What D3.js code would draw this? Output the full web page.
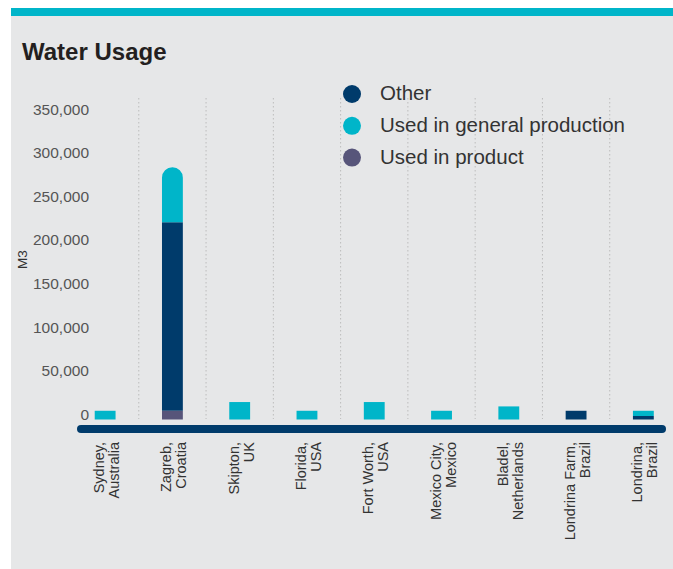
<!DOCTYPE html>
<html>
<head>
<meta charset="utf-8">
<script src="https://cdn.jsdelivr.net/npm/d3@7"></script>
<style>
  html, body { margin: 0; padding: 0; background: #ffffff; }
  svg { display: block; font-family: "Liberation Sans", Arial, Helvetica, sans-serif; }
</style>
</head>
<body>
<svg id="chart" width="673" height="569"></svg>
<script>
// Sites (two-line labels split after the comma)
const categories = [
  "Sydney, Australia", "Zagreb, Croatia", "Skipton, UK", "Florida, USA",
  "Fort Worth, USA", "Mexico City, Mexico", "Bladel, Netherlands",
  "Londrina Farm, Brazil", "Londrina, Brazil"
];
// Water volumes in m3 per site
const usedInProduct     = [0, 10000, 0, 0, 0, 0, 0, 0, 0];
const other             = [0, 216000, 0, 0, 0, 0, 0, 10000, 4000];
const generalProduction = [10000, 63000, 20000, 10000, 20000, 10000, 15000, 0, 6000];
const yTicks = [0, 50000, 100000, 150000, 200000, 250000, 300000, 350000];

const seriesNames = ["Used in product", "Other", "Used in general production"];
const legendOrder = ["Other", "Used in general production", "Used in product"];
const colors = {
  "Other": "#003b6b",
  "Used in general production": "#00b5c9",
  "Used in product": "#57557a"
};

const rows = categories.map((c, i) => ({
  site: c,
  "Used in product": usedInProduct[i],
  "Other": other[i],
  "Used in general production": generalProduction[i]
}));

const svg = d3.select("#chart");

// panel background and top accent strip
svg.append("rect").attr("x", 11).attr("y", 8).attr("width", 662).attr("height", 561).attr("fill", "#e6e7e8");
svg.append("rect").attr("x", 11).attr("y", 8).attr("width", 662).attr("height", 8).attr("fill", "#00b5c9");

svg.append("text")
  .attr("x", 22).attr("y", 60)
  .attr("font-size", 24).attr("font-weight", "bold")
  .attr("fill", "#231f20")
  .text("Water Usage");

const x = d3.scaleBand().domain(categories).range([71.5, 677]).padding(0);
const y = d3.scaleLinear().domain([0, 350000]).range([419.5, 114]);
const barW = x.bandwidth() * 0.31;

// dotted separators between sites
svg.append("g")
  .selectAll("line")
  .data(categories.slice(1))
  .join("line")
  .attr("x1", d => x(d)).attr("x2", d => x(d))
  .attr("y1", 98).attr("y2", 419)
  .attr("stroke", "#bcbcbc").attr("stroke-width", 1)
  .attr("stroke-dasharray", "1.5,2.5");

// y axis labels
const yAxis = svg.append("g")
  .attr("transform", "translate(89,0)")
  .call(d3.axisLeft(y).tickValues(yTicks).tickSize(0).tickPadding(0).tickFormat(d3.format(",")));
yAxis.select(".domain").remove();
yAxis.selectAll("text")
  .attr("dy", 0)
  .attr("font-size", 15.5)
  .attr("font-family", "Liberation Sans, Arial, Helvetica, sans-serif")
  .attr("fill", "#555");

svg.append("text")
  .attr("transform", "translate(27,259.5) rotate(-90)")
  .attr("text-anchor", "middle")
  .attr("font-size", 13.5)
  .attr("fill", "#333")
  .text("M3");

// stacked bars
const stack = d3.stack().keys(seriesNames)(rows);
const r = barW / 2;
function segPath(x0, y0, y1, rounded) {
  const w = barW;
  const h = y0 - y1;
  if (!rounded || h < w) return `M${x0},${y0}V${y1}H${x0 + w}V${y0}Z`;
  return `M${x0},${y0}V${y1 + r}A${r},${r} 0 0 1 ${x0 + w},${y1 + r}V${y0}Z`;
}
svg.append("g")
  .selectAll("g")
  .data(stack)
  .join("g")
  .attr("fill", s => colors[s.key])
  .selectAll("path")
  .data(s => s.map(d => ({ d, key: s.key })))
  .join("path")
  .filter(o => o.d[1] > o.d[0])
  .attr("d", o => {
    const isTop = o.d[1] === d3.sum(seriesNames, k => o.d.data[k]);
    const cx = x(o.d.data.site) + x.bandwidth() / 2;
    return segPath(cx - barW / 2, y(o.d[0]), y(o.d[1]), isTop);
  });

// baseline bar
svg.append("line")
  .attr("x1", 81).attr("x2", 662)
  .attr("y1", 429).attr("y2", 429)
  .attr("stroke", "#003b6b").attr("stroke-width", 8)
  .attr("stroke-linecap", "round");

// site labels, rotated, two lines
const xAxis = svg.append("g")
  .attr("transform", "translate(0,442)")
  .call(d3.axisBottom(x).tickSize(0).tickPadding(0));
xAxis.select(".domain").remove();
xAxis.selectAll("text").each(function(d) {
  const parts = d.split(", ");
  const t = d3.select(this)
    .attr("transform", "rotate(-90)")
    .attr("text-anchor", "end")
    .attr("x", 0).attr("y", 0).attr("dy", null)
    .attr("font-size", 14.5)
    .attr("font-family", "Liberation Sans, Arial, Helvetica, sans-serif")
    .attr("fill", "#333")
    .text(null);
  t.append("tspan").attr("x", 0).attr("y", -1).text(parts[0] + ",");
  t.append("tspan").attr("x", 0).attr("y", 14).text(parts[1]);
});

// legend
const lg = svg.append("g")
  .selectAll("g")
  .data(legendOrder)
  .join("g")
  .attr("transform", (d, i) => `translate(352,${94 + i * 31.8})`);
lg.append("circle").attr("r", 9).attr("fill", d => colors[d]);
lg.append("text")
  .attr("x", 28).attr("y", 6)
  .attr("font-size", 20.5)
  .attr("fill", "#333")
  .text(d => d);
</script>
</body>
</html>
